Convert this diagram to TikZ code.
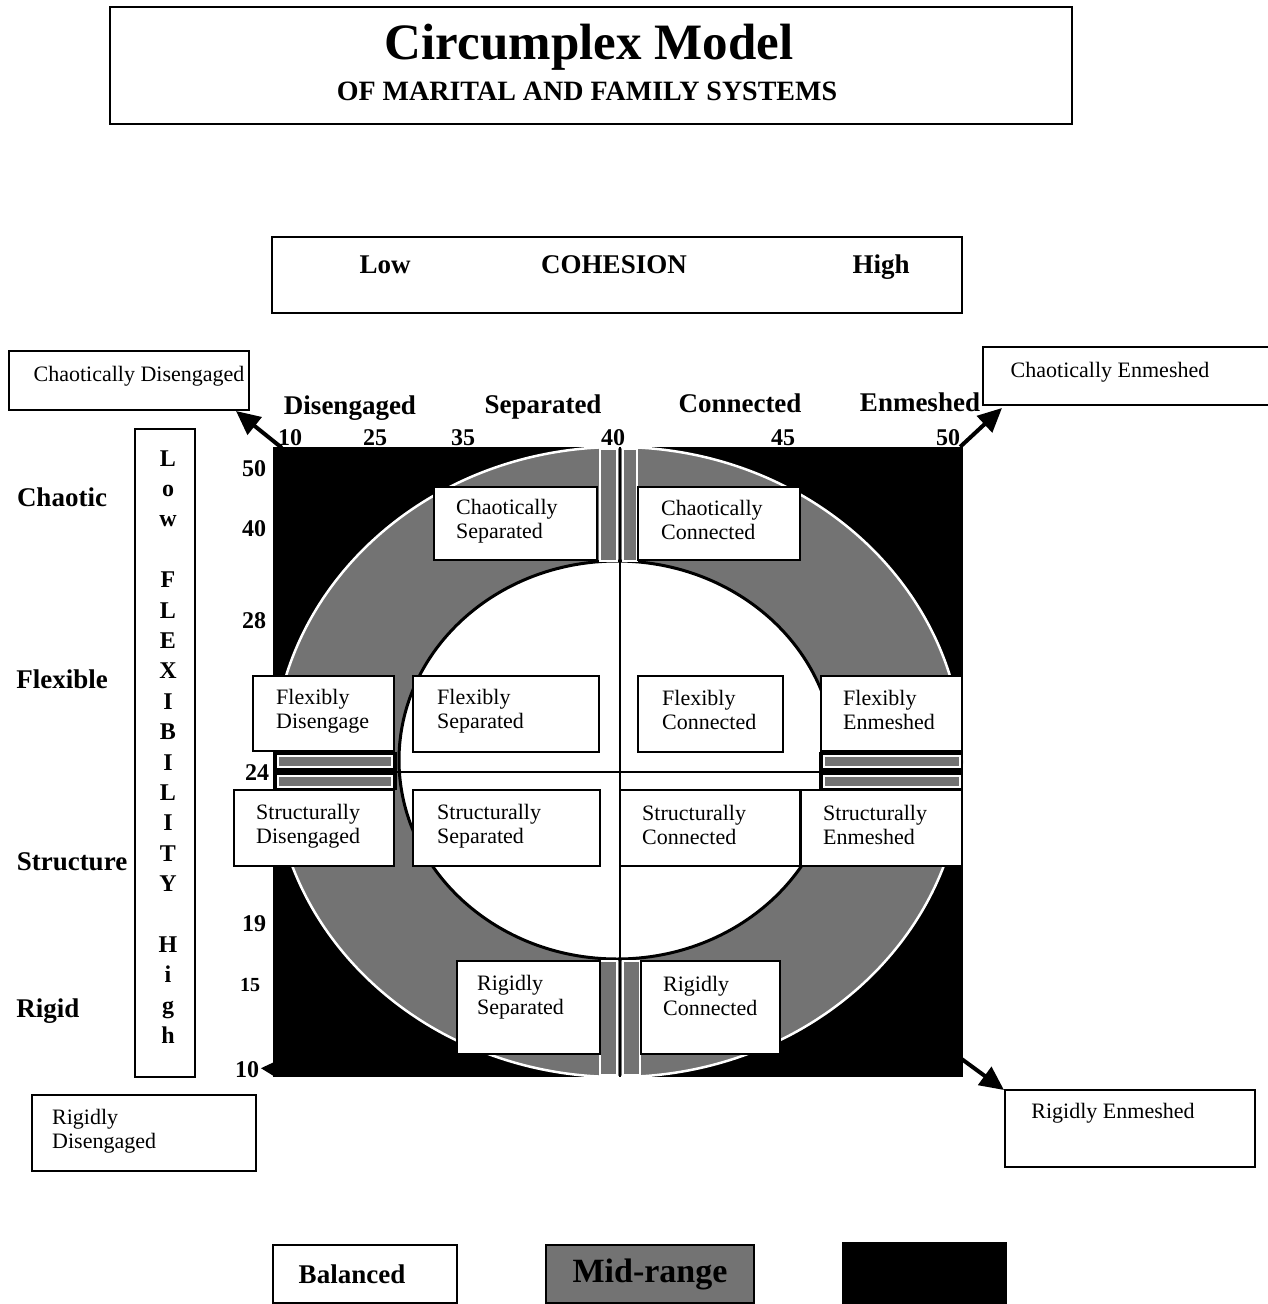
\documentclass[tikz,border=0pt]{standalone}
\usepackage{fontspec}
\setmainfont{Liberation Serif}
\usetikzlibrary{arrows.meta,calc}
\definecolor{midgray}{gray}{0.45}
\tikzset{
  frame/.style={draw=black, line width=2pt, fill=white, inner sep=0pt},
  cellbox/.style={draw=black, line width=2.4pt, fill=white, inner sep=0pt},
  celltext/.style={font=\fontsize{22}{23.5}\selectfont, align=left, inner sep=0pt, anchor=west},
  lab/.style={font=\fontsize{27}{30}\selectfont\bfseries, inner sep=0pt, text height=18pt, text depth=6pt},
  num/.style={font=\fontsize{24}{26}\selectfont\bfseries, inner sep=0pt, text height=16pt, text depth=0pt},
  strip/.style={fill=midgray, draw=white, line width=1.5pt},
  bigarrow/.style={line width=4pt, -{Triangle[length=24pt,width=22pt]}},
}
\newcommand\mycell[8]{%
  \node[cellbox, minimum width={(#4-#2)*1pt}, minimum height={(#5-#3)*1pt}] (#1) at ({(#2+#4)/2},{(#3+#5)/2}) {};
  \node[celltext] (#1t) at (#6,#7) {#8};}
\begin{document}
\begin{tikzpicture}[x=1pt,y=-1pt]
\useasboundingbox[fill=white] (0,0) rectangle (1267,1304);
% ---------- title
\node[frame, minimum width=962pt, minimum height=117pt] (title) at (591,65.5) {};
\node[font=\fontsize{51}{54}\selectfont\bfseries, inner sep=0pt] (t1) at (589,47) {Circumplex Model};
\node[font=\fontsize{28}{30}\selectfont\bfseries, inner sep=0pt] (t2) at (587,91) {OF MARITAL AND FAMILY SYSTEMS};
% ---------- cohesion box
\node[frame, minimum width=690pt, minimum height=76pt] (coh) at (617,275) {};
\node[lab] (low) at (385,267) {Low};
\node[lab] (cohesion) at (614,267) {COHESION};
\node[lab] (high) at (881,267) {High};
% ---------- cohesion categories and numbers
\node[lab] (dis) at (350,408) {Disengaged};
\node[lab] (sep) at (543,407) {Separated};
\node[lab] (con) at (740,406) {Connected};
\node[lab] (enm) at (920,405) {Enmeshed};
\node[num] (n10) at (290,437) {10};
\node[num] (n25) at (375,437) {25};
\node[num] (n35) at (463,437) {35};
\node[num] (n40) at (613,437) {40};
\node[num] (n45) at (783,437) {45};
\node[num] (n50) at (948,437) {50};
% ---------- main grid
\node[fill=black, minimum width=690pt, minimum height=630pt, inner sep=0pt] (grid) at (618,762) {};
\begin{scope}
  \clip (273,447) rectangle (963,1077);
  \fill[midgray] (618,762) ellipse [x radius=345pt, y radius=315pt];
  \draw[white, line width=2.5pt] (618,762) ellipse [x radius=345pt, y radius=315pt];
\end{scope}
\draw[fill=white, line width=3pt] (617,760) ellipse [x radius=218pt, y radius=199pt];
% mid-range strips next to the axes
\draw[strip] (600,449) rectangle (617,561);
\draw[strip] (623,449) rectangle (637,561);
\draw[strip] (600,961) rectangle (617,1075);
\draw[strip] (623,961) rectangle (640,1075);
\fill[black] (273,752) rectangle (397,790);
\draw[strip] (278,756) rectangle (392,767);
\draw[strip] (278,776) rectangle (392,787);
\fill[black] (819,752) rectangle (963,790);
\draw[strip] (824,756) rectangle (960,767);
\draw[strip] (824,776) rectangle (960,787);
% axes
\draw[line width=2pt] (620,447) -- (620,1077);
\draw[line width=2.2pt] (397,772) -- (819,772);
% ---------- cells
\mycell{cs}{434}{487}{597}{560}{456}{521}{Chaotically\\Separated}
\mycell{cc}{638}{487}{800}{560}{661}{520}{Chaotically\\Connected}
\mycell{fd}{253}{676}{394}{751}{276}{711}{Flexibly\\Disengage}
\mycell{fs}{413}{676}{599}{752}{437}{711}{Flexibly\\Separated}
\mycell{fc}{638}{676}{783}{752}{662}{710}{Flexibly\\Connected}
\mycell{fe}{821}{676}{962}{751}{843}{710}{Flexibly\\Enmeshed}
\mycell{sd}{234}{790}{394}{866}{256}{826}{Structurally\\Disengaged}
\mycell{ss}{413}{790}{600}{866}{437}{826}{Structurally\\Separated}
\mycell{sc}{620}{790}{800}{866}{642}{825}{Structurally\\Connected}
\mycell{se}{801}{790}{962}{866}{823}{825}{Structurally\\Enmeshed}
\mycell{rs}{457}{961}{600}{1054}{477}{997}{Rigidly\\Separated}
\mycell{rc}{641}{961}{780}{1054}{663}{996}{Rigidly\\Connected}
% ---------- corner boxes
\node[frame, minimum width=240pt, minimum height=59pt] (cd) at (129,380.5) {};
\node[celltext, anchor=center] (cdt) at (139,376) {Chaotically Disengaged};
\node[frame, minimum width=290pt, minimum height=58pt] (ce) at (1128,376) {};
\node[celltext, anchor=center] (cet) at (1110,372) {Chaotically Enmeshed};
\node[frame, minimum width=224pt, minimum height=76pt] (rd) at (144,1133) {};
\node[celltext] (rdt) at (52,1131) {Rigidly\\Disengaged};
\node[frame, minimum width=250pt, minimum height=77pt] (re) at (1130,1128.5) {};
\node[celltext, anchor=center] (ret) at (1113,1113) {Rigidly Enmeshed};
% ---------- arrows
\draw[bigarrow] ($(grid.north west)+(9,1)$) -- ($(cd.south east)+(-14,0)$);
\draw[bigarrow] ($(grid.north east)+(-3,0)$) -- ($(ce.south west)+(20,2)$);
\draw[bigarrow] ($(grid.south east)+(-4,-20)$) -- ($(re.north west)+(0,1)$);
\draw[line width=3pt, -{Triangle[length=14pt,width=14pt]}] ($(grid.south west)+(6,-8)$) -- ($(grid.south west)+(-12,-9)$);
% ---------- flexibility side
\node[frame, minimum width=60pt, minimum height=648pt] (flexbox) at (165,753) {};
\node[font=\fontsize{24}{30.4}\selectfont\bfseries, align=center, inner sep=0pt] (flex) at (168,747)
  {L\\o\\w\\\mbox{}\\F\\L\\E\\X\\I\\B\\I\\L\\I\\T\\Y\\\mbox{}\\H\\i\\g\\h};
\node[lab] (chaotic) at (62,500) {Chaotic};
\node[lab] (flexible) at (62,682) {Flexible};
\node[lab] (structure) at (72,864) {Structure};
\node[lab] (rigid) at (48,1011) {Rigid};
\node[num] (m50) at (254,468) {50};
\node[num] (m40) at (254,528) {40};
\node[num] (m28) at (254,620) {28};
\node[num] (m24) at (257,772) {24};
\node[num] (m19) at (254,923) {19};
\node[num, font=\fontsize{20}{22}\selectfont\bfseries] (m15) at (250,983) {15};
\node[num] (m10) at (247,1069) {10};
% ---------- legend
\node[frame, minimum width=184pt, minimum height=58pt] (bal) at (365,1274) {};
\node[lab] (balt) at (352,1277) {Balanced};
\node[frame, fill=midgray, minimum width=208pt, minimum height=58pt,
      font=\fontsize{34}{36}\selectfont\bfseries] (mid) at (650,1274) {Mid-range};
\node[fill=black, minimum width=165pt, minimum height=62pt, inner sep=0pt] (extreme) at (924.5,1273) {};
\end{tikzpicture}
\end{document}
